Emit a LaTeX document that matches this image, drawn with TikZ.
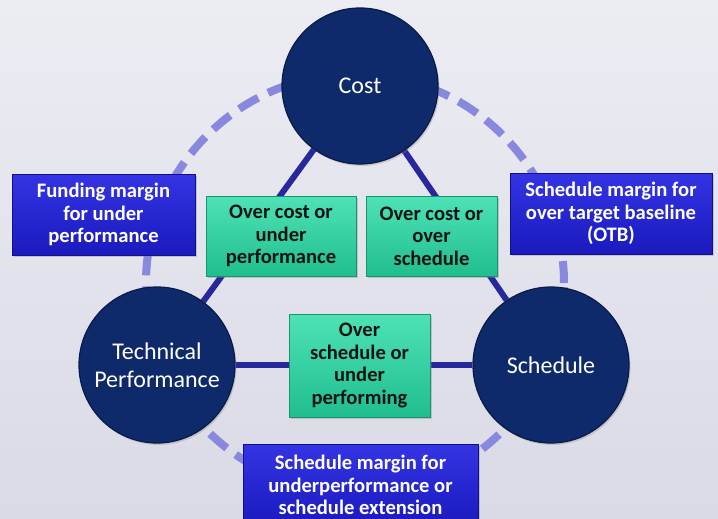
\documentclass[tikz,border=0pt]{standalone}
\usepackage{fontspec}
\setmainfont{Carlito}
\usetikzlibrary{backgrounds,shadows}
\definecolor{navyfill}{RGB}{14,42,106}
\definecolor{navyrim}{RGB}{8,26,72}
\definecolor{ringblue}{RGB}{136,136,222}
\definecolor{legblue}{RGB}{40,40,158}
\definecolor{marginhi}{RGB}{52,52,228}
\definecolor{marginlo}{RGB}{26,26,190}
\definecolor{marginrim}{RGB}{16,16,140}
\definecolor{tradehi}{RGB}{78,226,182}
\definecolor{tradelo}{RGB}{32,190,142}
\definecolor{traderim}{RGB}{22,150,110}
\definecolor{paperhi}{RGB}{236,236,243}
\definecolor{paperlo}{RGB}{218,218,230}

\begin{document}
\begin{tikzpicture}[x=1pt,y=-1pt,
	pillar/.style={circle,minimum size=156pt,inner sep=0pt,fill=navyfill,draw=navyrim,line width=1.2pt,
		text=white,align=center,font=\fontsize{24}{28}\selectfont,
		drop shadow={shadow xshift=1.5pt,shadow yshift=-2pt,opacity=0.3}},
	marginbox/.style={rectangle,inner sep=0pt,draw=marginrim,line width=0.8pt,top color=marginhi,bottom color=marginlo,
		text=white,align=center,font=\fontsize{20.6}{22.5}\selectfont\bfseries,
		drop shadow={shadow xshift=2pt,shadow yshift=-2pt,opacity=0.35}},
	tradebox/.style={rectangle,inner sep=0pt,draw=traderim,line width=0.8pt,top color=tradehi,bottom color=tradelo,
		text=black!92,align=center,font=\fontsize{20.6}{22.5}\selectfont\bfseries,
		drop shadow={shadow xshift=2pt,shadow yshift=-2pt,opacity=0.35}},
	leg/.style={legblue,line width=6pt},
	loop/.style={ringblue,line width=8pt,dash pattern=on 22pt off 11pt}]
	%%%%% START %%%%%
	\useasboundingbox (0,0) rectangle (718,519);
	\clip (0,0) rectangle (718,519);

	% the three corners
	\node[pillar] (cost) at (360,86) {Cost};
	\node[pillar] (tech) at (157,365) {Technical\\Performance};
	\node[pillar] (sched) at (551,365) {Schedule};

	% trade-offs along the sides
	\node[tradebox,minimum width=150pt,minimum height=80pt] (costperf) at (281,236) {Over cost or\\under\\performance};
	\node[tradebox,minimum width=131pt,minimum height=80pt] (costsched) at (431.5,236) {Over cost or\\over\\schedule};
	\node[tradebox,minimum width=141pt,minimum height=103pt] (schedperf) at (359.5,365.5) {Over\\schedule or\\under\\performing};

	% margins outside
	\node[marginbox,minimum width=183pt,minimum height=81pt] (funding) at (103.5,214.5) {Funding margin\\for under\\performance};
	\node[marginbox,minimum width=202pt,minimum height=81pt] (otb) at (611,213.5) {Schedule margin for\\over target baseline\\(OTB)};
	\node[marginbox,minimum width=235pt,minimum height=82pt] (extension) at (360.5,485) {Schedule margin for\\underperformance or\\schedule extension};

	\begin{scope}[on background layer]
		\shade[top color=paperhi,bottom color=paperlo] (0,0) rectangle (718,519);
		\draw[loop] (355,283) circle[radius=209pt];
		\draw[leg] (cost) -- (tech);
		\draw[leg] (tech) -- (sched);
		\draw[leg] (sched) -- (cost);
	\end{scope}
	%%%%% END %%%%%
\end{tikzpicture}
\end{document}
